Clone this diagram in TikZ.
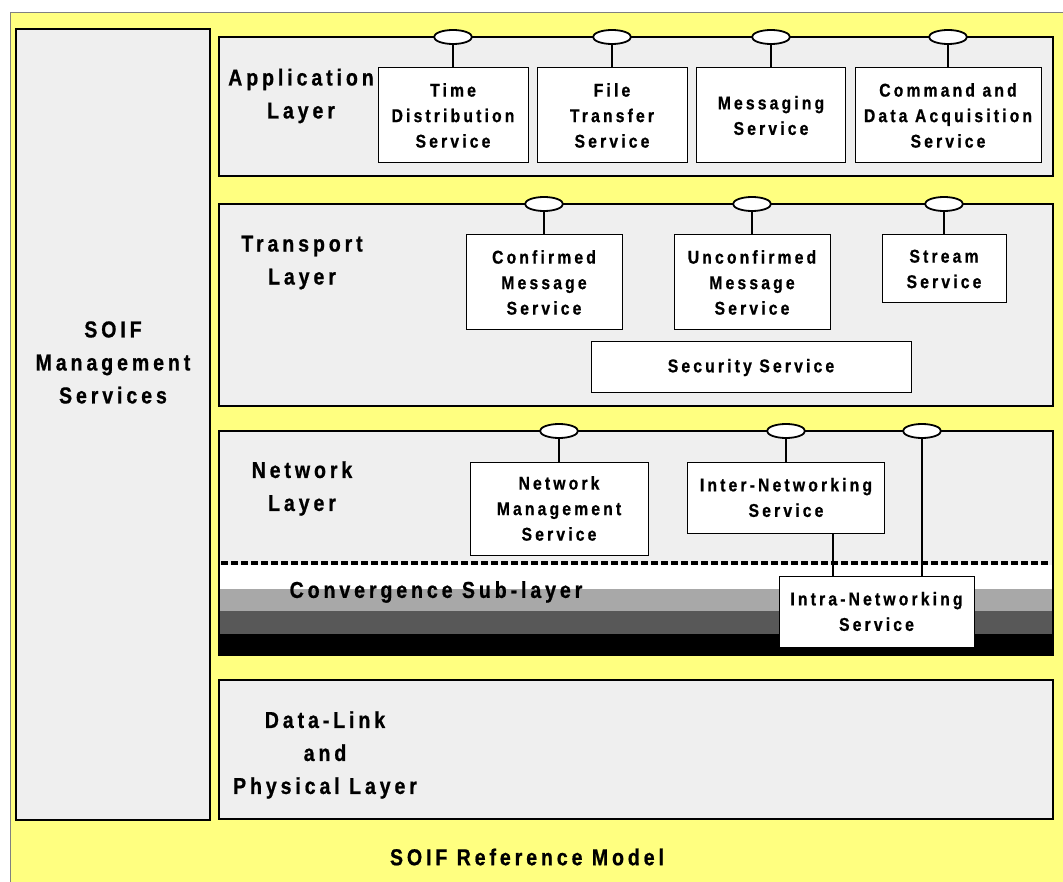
\documentclass[tikz,border=0pt]{standalone}
\usepackage{fontspec}
\setmainfont{Liberation Sans}[FakeStretch=0.85,LetterSpace=17,BoldFeatures={FakeBold=0.8}]
\usetikzlibrary{shapes.geometric}
\definecolor{bgyellow}{HTML}{FFFF80}
\definecolor{panel}{HTML}{EFEFEF}
\definecolor{bandlight}{HTML}{A8A8A8}
\definecolor{banddark}{HTML}{585858}
\begin{document}
\begin{tikzpicture}
  [x=1pt,y=-1pt,every node/.style={inner sep=0pt}]
  \tikzstyle{layer} = [draw,line width=1.3pt,fill=panel]
  \tikzstyle{svc} = [draw,line width=1pt,fill=white,align=center,
    font=\bfseries\fontsize{18.5}{25.5}\selectfont]
  \tikzstyle{lbl} = [align=center,font=\bfseries\fontsize{23}{33}\selectfont]
  \tikzstyle{sap} = [draw,ellipse,line width=1.8pt,fill=white,
    minimum width=38pt,minimum height=14pt]
  \useasboundingbox (0,0) rectangle (1063,882);
  \draw[draw=gray,fill=bgyellow,line width=1pt] (10,13) rectangle (1080,900);

  % management column and layers
  \node[layer,minimum width=194pt,minimum height=791pt] (mgmt) at (113,424.5) {};
  \node[layer,minimum width=834pt,minimum height=139pt] (app) at (636,106.5) {};
  \node[layer,minimum width=834pt,minimum height=202pt] (trans) at (636,305) {};
  \node[layer,minimum width=834pt,minimum height=224pt] (net) at (636,543) {};
  \node[layer,minimum width=834pt,minimum height=139pt] (dl) at (636,749.5) {};

  % convergence sub-layer
  \fill[white] (220,565) rectangle (1052,589);
  \fill[bandlight] (220,589) rectangle (1052,611);
  \fill[banddark] (220,611) rectangle (1052,634);
  \fill[black] (220,634) rectangle (1052,655);
  \draw[line width=1.3pt] (net.south west) rectangle (net.north east);
  \draw[line width=3.5pt,dash pattern=on 6.5pt off 3.5pt] (221,563) -- (1051,563);

  \node[lbl] (mgmtlbl) at (113,362.5) {SOIF\\Management\\Services};
  \node[lbl] (applbl) at (301,96) {Application\\Layer};
  \node[lbl] (translbl) at (302,262.5) {Transport\\Layer};
  \node[lbl] (netlbl) at (302,488.5) {Network\\Layer};
  \node[lbl] (conv) at (436,592) {Convergence Sub-layer};
  \node[lbl] (dllbl) at (325,755) {Data-Link\\and\\Physical Layer};
  \node[lbl] (title) at (527,857) {SOIF Reference Model};

  % services
  \node[svc,minimum width=150pt,minimum height=95pt] (tds) at (453,115.5) {Time\\Distribution\\Service};
  \node[svc,minimum width=150pt,minimum height=95pt] (fts) at (612,115.5) {File\\Transfer\\Service};
  \node[svc,minimum width=149pt,minimum height=95pt] (msg) at (771,115.5) {Messaging\\Service};
  \node[svc,minimum width=186pt,minimum height=95pt] (cda) at (948,115.5) {Command and\\Data Acquisition\\Service};
  \node[svc,minimum width=156pt,minimum height=95pt] (cms) at (544,282.5) {Confirmed\\Message\\Service};
  \node[svc,minimum width=156pt,minimum height=95pt] (ums) at (752,282.5) {Unconfirmed\\Message\\Service};
  \node[svc,minimum width=124pt,minimum height=68pt] (sts) at (944,269) {Stream\\Service};
  \node[svc,minimum width=320pt,minimum height=51pt] (sec) at (751,367.5) {Security Service};
  \node[svc,minimum width=178pt,minimum height=93pt] (nms) at (559,508.5) {Network\\Management\\Service};
  \node[svc,minimum width=197pt,minimum height=71pt] (ins) at (786,497.5) {Inter-Networking\\Service};
  \node[svc,minimum width=195pt,minimum height=71pt] (ras) at (876.5,611.5) {Intra-Networking\\Service};

  % service access points
  \node[sap] (s1) at (453,37) {};
  \node[sap] (s2) at (612,37) {};
  \node[sap] (s3) at (771,37) {};
  \node[sap] (s4) at (948,37) {};
  \node[sap] (s5) at (544,204) {};
  \node[sap] (s6) at (752,204) {};
  \node[sap] (s7) at (944,204) {};
  \node[sap] (s8) at (559,431) {};
  \node[sap] (s9) at (786,431) {};
  \node[sap] (s10) at (922,431) {};

\foreach \sap /\svc in {s1/tds,s2/fts,s3/msg,s4/cda,s5/cms,s6/ums,s7/sts,s8/nms,s9/ins}
   \draw[line width=2pt] (\sap) -- (\svc);
  \draw[line width=2pt] (s10) -- (s10 |- ras.north);
  \draw[line width=2pt] ([xshift=47pt]ins.south) -- ([xshift=-43.5pt]ras.north);

  \end{tikzpicture}
\end{document}
